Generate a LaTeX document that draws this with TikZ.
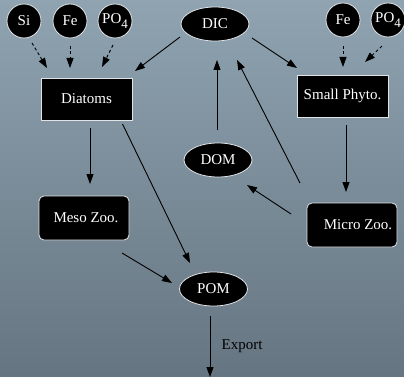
\documentclass[tikz,border=0pt]{standalone}
\usepackage{fontspec}
\setmainfont{Liberation Serif}
\usetikzlibrary{arrows.meta,calc,shapes.geometric}
\definecolor{bgtop}{RGB}{143,163,176}
\definecolor{bgbot}{RGB}{102,117,130}
\definecolor{rim}{RGB}{225,228,230}
\tikzset{
  x=1pt,y=-1pt,
  txt/.style={font=\rmfamily\fontsize{15}{18}\selectfont},
  nut/.style={txt,circle,fill=black,draw=rim,line width=0.8pt,text=white,minimum size=34pt,inner sep=0pt},
  ell/.style={txt,ellipse,fill=black,draw=rim,line width=0.8pt,text=white,minimum width=68pt,minimum height=34pt,inner sep=0pt},
  sbox/.style={txt,rectangle,fill=black,draw=rim,line width=0.8pt,text=white,minimum width=91pt,minimum height=42pt,inner sep=0pt},
  rbox/.style={sbox,rounded corners=5pt,minimum width=90pt,minimum height=44pt},
  arr/.style={-{Triangle[length=10pt,width=7pt]},line width=0.9pt,black},
  darr/.style={arr,dash pattern=on 3pt off 2.5pt}
}
\newcommand{\pofour}{PO\raisebox{-4.5pt}{\fontsize{13}{13}\selectfont 4}}
\begin{document}
\begin{tikzpicture}
\shade[top color=bgtop,bottom color=bgbot] (0,0) rectangle (404,377);
\useasboundingbox (0,0) rectangle (404,377);
% nodes
\node[nut] (Si) at (24,21) {Si};
\node[nut] (FeL) at (70,21) {Fe};
\node[nut] (POL) at (115,21) {\pofour};
\node[ell] (DIC) at (215,24) {DIC};
\node[nut] (FeR) at (343,20) {Fe};
\node[nut] (POR) at (388,20) {\pofour};
\node[sbox] (Diatoms) at (86.5,99) {Diatoms};
\node[sbox] (SP) at (342.5,96) {Small Phyto.};
\node[rbox] (Meso) at (84,218) {\hspace*{4pt}Meso Zoo.};
\node[ell] (DOM) at (218,160) {DOM};
\node[rbox] (Micro) at (352,225) {\hspace*{12pt}Micro Zoo.};
\node[ell] (POM) at (213.5,289) {POM};
\coordinate (Exp) at (210,377);
\node[txt,text=black] (ExpL) at (242,346) {Export};
% edges
\draw[darr] ($(Si)+(8,22)$) -- ($(Diatoms)+(-39.5,-31)$);
\draw[darr] ($(FeL)+(0,25)$) -- ($(Diatoms)+(-16.5,-31)$);
\draw[darr] ($(POL)+(-2,24)$) -- ($(Diatoms)+(15.5,-32)$);
\draw[arr] ($(DIC)+(-35,13)$) -- ($(Diatoms)+(48.5,-28)$);
\draw[arr] ($(DIC)+(37,14)$) -- ($(SP)+(-45.5,-28)$);
\draw[darr] ($(FeR)+(0,26)$) -- ($(SP)+(0.5,-29)$);
\draw[darr] ($(POR)+(-6,26)$) -- ($(SP)+(22.5,-34)$);
\draw[arr] ($(DOM)+(-1,-30)$) -- ($(DIC)+(2,36)$);
\draw[arr] ($(Micro)+(-52,-42)$) -- ($(DIC)+(22,36)$);
\draw[arr] ($(SP)+(3.5,29)$) -- ($(Micro)+(-6,-33)$);
\draw[arr] ($(Micro)+(-61,-11)$) -- ($(DOM)+(29,25)$);
\draw[arr] ($(Diatoms)+(3.5,29)$) -- ($(Meso)+(6,-34)$);
\draw[arr] ($(Diatoms)+(36,25)$) -- ($(POM)+(-23.5,-26)$);
\draw[arr] ($(Meso)+(38,35)$) -- ($(POM)+(-41.5,-6)$);
\draw[arr] ($(POM)+(-3.5,27)$) -- (Exp);
\end{tikzpicture}
\end{document}
